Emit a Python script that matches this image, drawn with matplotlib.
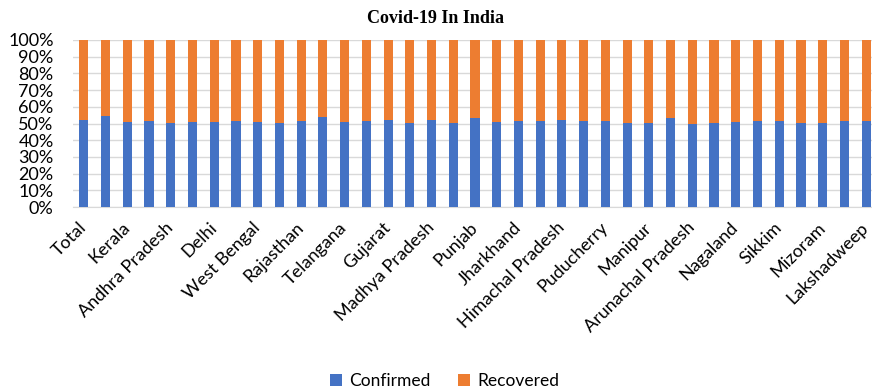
import matplotlib.pyplot as plt
import numpy as np

plt.rcParams['font.family'] = ['Lato', 'DejaVu Sans']

states = [
    "Total", "Maharashtra", "Kerala", "Karnataka", "Andhra Pradesh",
    "Tamil Nadu", "Delhi", "Uttar Pradesh", "West Bengal", "Chhattisgarh",
    "Rajasthan", "Odisha", "Telangana", "Haryana", "Gujarat", "Bihar",
    "Madhya Pradesh", "Assam", "Punjab", "Uttarakhand", "Jharkhand",
    "Jammu and Kashmir", "Himachal Pradesh", "Goa", "Puducherry",
    "Chandigarh", "Manipur", "Tripura", "Arunachal Pradesh", "Meghalaya",
    "Nagaland", "Ladakh", "Sikkim", "Dadra and Nagar Haveli and Daman and Diu",
    "Mizoram", "Andaman and Nicobar Islands", "Lakshadweep",
]

# share of each state's total, in percent
confirmed = [
    51.8, 54.4, 50.8, 51.4, 50.4, 51.0, 51.0, 51.4, 51.0, 50.4,
    51.4, 53.8, 51.0, 51.4, 51.8, 50.4, 52.0, 50.2, 53.2, 51.0,
    51.6, 51.4, 51.8, 51.4, 51.2, 50.2, 50.2, 53.2, 49.8, 50.2,
    50.8, 51.2, 51.2, 50.2, 50.2, 51.4, 51.4,
]
recovered = [
    48.2, 45.6, 49.2, 48.6, 49.6, 49.0, 49.0, 48.6, 49.0, 49.6,
    48.6, 46.2, 49.0, 48.6, 48.2, 49.6, 48.0, 49.8, 46.8, 49.0,
    48.4, 48.6, 48.2, 48.6, 48.8, 49.8, 49.8, 46.8, 50.2, 49.8,
    49.2, 48.8, 48.8, 49.8, 49.8, 48.6, 48.6,
]

x = np.arange(len(states))

fig = plt.figure(figsize=(8.72, 3.89), dpi=100)
ax = fig.add_axes([73 / 872, 1 - 207 / 389, 804 / 872, 167 / 389])

ax.bar(x, confirmed, width=0.42, color="#4472C4", label="Confirmed", zorder=3)
ax.bar(x, recovered, width=0.42, bottom=confirmed, color="#ED7D31",
       label="Recovered", zorder=3)

ax.set_xlim(-0.5, len(states) - 0.5)
ax.set_ylim(0, 100)
ax.set_yticks(np.arange(0, 101, 10))
ax.set_yticklabels([f"{v}%" for v in range(0, 101, 10)], fontsize=13)
ax.yaxis.grid(True, color="#d9d9d9", linewidth=1, zorder=0)

# only every other state fits along the axis
ax.set_xticks(x)
ax.set_xticklabels([s if i % 2 == 0 else "" for i, s in enumerate(states)],
                   rotation=45, ha="right", va="center",
                   rotation_mode="anchor", fontsize=13)
ax.tick_params(axis="both", length=0)
ax.tick_params(axis="x", pad=13)
ax.tick_params(axis="y", pad=14)

for side in ["top", "right", "left"]:
    ax.spines[side].set_visible(False)
ax.spines["bottom"].set_color("#d9d9d9")

fig.suptitle("Covid-19 In India", x=0.499, y=0.975, fontsize=13,
             fontweight="bold", family="Liberation Serif")

fig.legend(loc="lower center", bbox_to_anchor=(0.51, -0.04), ncol=2,
           frameon=False, fontsize=12.5, handlelength=0.7, handleheight=0.7,
           columnspacing=1.6, handletextpad=0.4)

fig.savefig("out.png", dpi=100)
